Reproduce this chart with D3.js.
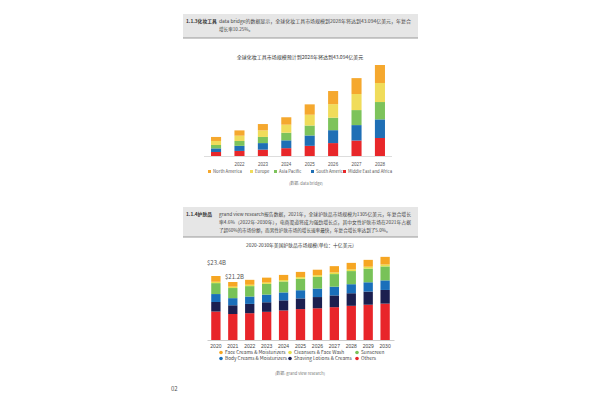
<!DOCTYPE html><html><head><meta charset="utf-8"><script src="https://cdn.jsdelivr.net/npm/d3@7"></script>
<style>body{margin:0;background:#fff}svg{font-family:"Noto Sans CJK SC","Noto Sans",sans-serif}</style></head><body><svg id="c" width="600" height="400"></svg>
<script>
// Chart 1 data
const years1=["2021","2022","2023","2024","2025","2026","2027","2028"];
const tickLabels1=["","2022","2023","2024","2025","2026","2027","2028"];
const keys1=["Middle East and Africa","South America","Asia Pacific","Europe","North America"];
const mea=[1.9,2.4,3.0,3.7,4.8,6.1,7.3,8.5];
const sam=[1.7,2.4,3.1,3.7,4.9,6.1,7.3,8.8];
const apac=[1.6,2.3,2.9,3.6,4.7,5.9,7.1,8.2];
const eur=[1.9,2.5,3.1,3.8,5.1,6.4,7.6,9.0];
const nam=[1.9,2.5,3.0,3.5,4.9,6.2,7.5,8.5];
const cols1=["#e8272a","#1f6fb5","#7dc35b","#f0dc5a","#f5a82e"];
// Chart 2 data
const years2=["2020","2021","2022","2023","2024","2025","2026","2027","2028","2029","2030"];
const keys2=["Others","Shaving Lotions & Creams","Body Creams & Moisturizers","Sunscreen","Cleansers & Face Wash","Face Creams & Moisturizers"];
const others=[10.4,9.5,9.8,10.3,10.8,11.3,11.6,12.0,12.5,12.9,13.3];
const shaving=[3.5,3.2,3.4,3.5,3.7,3.9,4.1,4.3,4.6,4.8,5.0];
const body=[2.9,2.6,2.7,2.8,2.9,3.0,3.1,3.2,3.3,3.4,3.5];
const sunscreen=[4.0,3.7,3.8,3.9,4.0,4.2,4.3,4.6,4.8,5.0,5.1];
const cleansers=[0.5,0.5,0.5,0.5,0.5,0.6,0.6,0.6,0.6,0.7,0.7];
const faceCreams=[2.1,1.7,1.8,1.8,1.9,1.9,2.0,2.3,2.4,2.5,2.8];
const cols2=["#e8252a","#1b1f4f","#1a6fba","#78c258","#e6e04a","#f6a623"];
const legendOrder2=[5,4,3,2,1,0];

const svg=d3.select("#c");
function box(y,h,title,lines){
  const g=svg.append("g");
  g.append("rect").attr("x",183).attr("y",y).attr("width",235).attr("height",h).attr("fill","#e6e6e6");
  g.append("line").attr("x1",183).attr("x2",418).attr("y1",y+h).attr("y2",y+h).attr("stroke","#999").attr("stroke-width",1);
  g.append("text").attr("x",186).attr("y",y+9).attr("font-size",4.8).attr("font-weight","bold").attr("fill","#333").text(title);
  lines.forEach((l,i)=>{const t=g.append("text").attr("x",219).attr("y",y+9+i*8).attr("font-size",4.6).attr("fill","#444").text(l);
    if(i<lines.length-1)t.attr("textLength",192).attr("lengthAdjust","spacingAndGlyphs");});
}
box(14,24,"1.1.3化妆工具",["data bridge的数据显示，全球化妆工具市场规模到2028年将达到43.094亿美元，年复合","增长率10.25%。"]);
box(207,30,"1.1.4护肤品",["grand view research报告数据，2021年，全球护肤品市场规模为1305亿美元，年复合增长","率4.6%（2022年-2030年），电商渠道将成为强劲增长点，其中女性护肤市场在2021年占据","了超60%的市场份额，而男性护肤市场的增长速率最快，年复合增长率达到了5.0%。"]);

// Chart 1
const data1=years1.map((y,i)=>({y,v:[mea[i],sam[i],apac[i],eur[i],nam[i]]}));
const st1=d3.stack().keys([0,1,2,3,4]).value((d,k)=>d.v[k])(data1);
const x1=d3.scaleBand().domain(years1).range([204,392]).paddingInner(0.57).paddingOuter(0.3);
const y1=d3.scaleLinear().domain([0,43]).range([156,65]);
svg.append("text").attr("x",300).attr("y",59).attr("text-anchor","middle").attr("font-size",5).attr("fill","#333").text("全球化妆工具市场规模预计到2028年将达到43.094亿美元");
st1.forEach((s,k)=>svg.append("g").attr("fill",cols1[k]).selectAll("rect").data(s).join("rect")
 .attr("x",d=>x1(d.data.y)).attr("width",x1.bandwidth()).attr("y",d=>y1(d[1])).attr("height",d=>y1(d[0])-y1(d[1])));
svg.append("line").attr("x1",204).attr("x2",392).attr("y1",156.5).attr("y2",156.5).attr("stroke","#ddd");
const ax1=svg.append("g").attr("transform","translate(0,157)").call(d3.axisBottom(x1).tickSize(0).tickFormat((d,i)=>tickLabels1[i]));
ax1.select(".domain").remove();ax1.selectAll("text").attr("font-size",4.5).attr("fill","#555").attr("dy",6);
const leg1=[...keys1].reverse(),lc1=[...cols1].reverse(),lx1=[208,250,274,311,343];
leg1.forEach((k,i)=>{svg.append("rect").attr("x",lx1[i]).attr("y",170).attr("width",3).attr("height",3).attr("fill",lc1[i]);
 svg.append("text").attr("x",lx1[i]+5).attr("y",173).attr("font-size",4.3).attr("fill","#555").text(k);});
svg.append("text").attr("x",289).attr("y",185).attr("font-size",4).attr("fill","#777").text("(数据: data bridge)");

// Chart 2
const data2=years2.map((y,i)=>({y,v:[others[i],shaving[i],body[i],sunscreen[i],cleansers[i],faceCreams[i]]}));
const st2=d3.stack().keys([0,1,2,3,4,5]).value((d,k)=>d.v[k])(data2);
const x2=d3.scaleBand().domain(years2).range([207,394]).paddingInner(0.45).paddingOuter(0.25);
const y2=d3.scaleLinear().domain([0,23.4]).range([340,276]);
svg.append("text").attr("x",300).attr("y",247).attr("text-anchor","middle").attr("font-size",4.8).attr("fill","#333").text("2020-2030年美国护肤品市场规模(单位：十亿美元)");
st2.forEach((s,k)=>svg.append("g").attr("fill",cols2[k]).selectAll("rect").data(s).join("rect")
 .attr("x",d=>x2(d.data.y)).attr("width",x2.bandwidth()).attr("y",d=>y2(d[1])).attr("height",d=>y2(d[0])-y2(d[1])));
const ax2=svg.append("g").attr("transform","translate(0,340)").call(d3.axisBottom(x2).tickSize(0));
ax2.select(".domain").attr("stroke","#ccc");ax2.selectAll("text").attr("font-size",5).attr("fill","#444").attr("dy",5);
svg.append("text").attr("x",207).attr("y",265).attr("font-size",6).attr("fill","#555").text("$23.4B");
svg.append("text").attr("x",225).attr("y",279).attr("font-size",6).attr("fill","#555").text("$21.2B");
const lpos=[[221,354],[290,354],[357,354],[221,360],[290,360],[357,360]];
legendOrder2.forEach((k,i)=>{const [lx,ly]=lpos[i];
 svg.append("circle").attr("cx",lx).attr("cy",ly-1.5).attr("r",1.8).attr("fill",cols2[k]);
 svg.append("text").attr("x",lx+4).attr("y",ly).attr("font-size",4.8).attr("fill","#444").text(keys2[k]);});
svg.append("text").attr("x",275).attr("y",375).attr("font-size",4).attr("fill","#777").text("(数据: grand view research)");
svg.append("text").attr("x",171).attr("y",391).attr("font-size",6).attr("fill","#555").text("02");
</script></body></html>
